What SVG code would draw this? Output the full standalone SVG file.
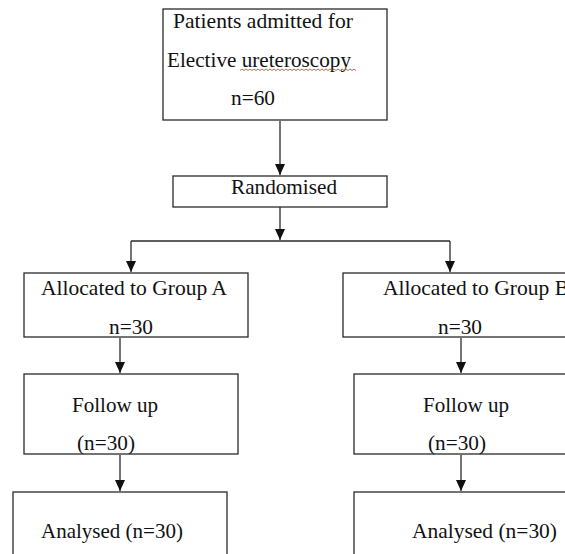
<svg xmlns="http://www.w3.org/2000/svg" width="565" height="554" viewBox="0 0 565 554">
<style>
.box{fill:#fff;stroke:#2a2a2a;stroke-width:1.3}
.t{font-family:'Liberation Serif','Times New Roman',serif;font-size:21px;fill:#111}
.c{fill:none;stroke:#2a2a2a;stroke-width:1.3}
</style>
<defs>
<marker id="ah" markerUnits="userSpaceOnUse" markerWidth="12" markerHeight="12" refX="11" refY="5" orient="auto">
<path d="M0,0 L11,5 L0,10 z" fill="#111"/>
</marker>
</defs>
<rect width="565" height="554" fill="#fff"/>
<g id="connectors">
<path class="c" d="M280,121 V175" marker-end="url(#ah)"/>
<path class="c" d="M280,207 V240" marker-end="url(#ah)"/>
<path class="c" d="M131,241 H450"/>
<path class="c" d="M131,241 V272" marker-end="url(#ah)"/>
<path class="c" d="M450,241 V272" marker-end="url(#ah)"/>
<path class="c" d="M120,338 V373" marker-end="url(#ah)"/>
<path class="c" d="M461,338 V373" marker-end="url(#ah)"/>
<path class="c" d="M120,455 V491" marker-end="url(#ah)"/>
<path class="c" d="M461,455 V491" marker-end="url(#ah)"/>
</g>
<g id="patients">
<rect class="box" x="163" y="9" width="224" height="111"/>
<text class="t" x="173" y="28" textLength="180" lengthAdjust="spacingAndGlyphs">Patients admitted for</text>
<text class="t" x="167" y="67" textLength="184" lengthAdjust="spacingAndGlyphs">Elective ureteroscopy</text>
<path d="M240,70.5 l2,-1.5 l2,1.5 l2,-1.5 l2,1.5 l2,-1.5 l2,1.5 l2,-1.5 l2,1.5 l2,-1.5 l2,1.5 l2,-1.5 l2,1.5 l2,-1.5 l2,1.5 l2,-1.5 l2,1.5 l2,-1.5 l2,1.5 l2,-1.5 l2,1.5 l2,-1.5 l2,1.5 l2,-1.5 l2,1.5 l2,-1.5 l2,1.5 l2,-1.5 l2,1.5 l2,-1.5 l2,1.5 l2,-1.5 l2,1.5 l2,-1.5 l2,1.5 l2,-1.5 l2,1.5 l2,-1.5 l2,1.5 l2,-1.5 l2,1.5 l2,-1.5 l2,1.5 l2,-1.5 l2,1.5 l2,-1.5 l2,1.5 l2,-1.5 l2,1.5 l2,-1.5 l2,1.5 l2,-1.5 l2,1.5 l2,-1.5 l2,1.5 l2,-1.5 l2,1.5 l2,-1.5 l2,1.5" fill="none" stroke="#e03030" stroke-width="0.8"/>
<text class="t" x="231" y="105" textLength="44" lengthAdjust="spacingAndGlyphs">n=60</text>
</g>
<g id="randomised">
<rect class="box" x="173" y="176" width="214" height="31"/>
<text class="t" x="231" y="194" textLength="106" lengthAdjust="spacingAndGlyphs">Randomised</text>
</g>
<g id="groupA">
<rect class="box" x="24" y="273" width="224" height="64"/>
<text class="t" x="41" y="295" textLength="186" lengthAdjust="spacingAndGlyphs">Allocated to Group A</text>
<text class="t" x="109" y="334" textLength="44" lengthAdjust="spacingAndGlyphs">n=30</text>
</g>
<g id="groupB">
<rect class="box" x="343" y="273" width="240" height="64"/>
<text class="t" x="383" y="295" textLength="186" lengthAdjust="spacingAndGlyphs">Allocated to Group B</text>
<text class="t" x="438" y="334" textLength="44" lengthAdjust="spacingAndGlyphs">n=30</text>
</g>
<g id="followA">
<rect class="box" x="24" y="374" width="214" height="80"/>
<text class="t" x="72" y="412" textLength="86" lengthAdjust="spacingAndGlyphs">Follow up</text>
<text class="t" x="77" y="450" textLength="58" lengthAdjust="spacingAndGlyphs">(n=30)</text>
</g>
<g id="followB">
<rect class="box" x="354" y="374" width="230" height="80"/>
<text class="t" x="423" y="412" textLength="86" lengthAdjust="spacingAndGlyphs">Follow up</text>
<text class="t" x="428" y="450" textLength="58" lengthAdjust="spacingAndGlyphs">(n=30)</text>
</g>
<g id="analysedA">
<rect class="box" x="13" y="492" width="214" height="80"/>
<text class="t" x="41" y="538" textLength="142" lengthAdjust="spacingAndGlyphs">Analysed (n=30)</text>
</g>
<g id="analysedB">
<rect class="box" x="354" y="492" width="230" height="80"/>
<text class="t" x="412" y="538" textLength="145" lengthAdjust="spacingAndGlyphs">Analysed (n=30)</text>
</g>
</svg>
